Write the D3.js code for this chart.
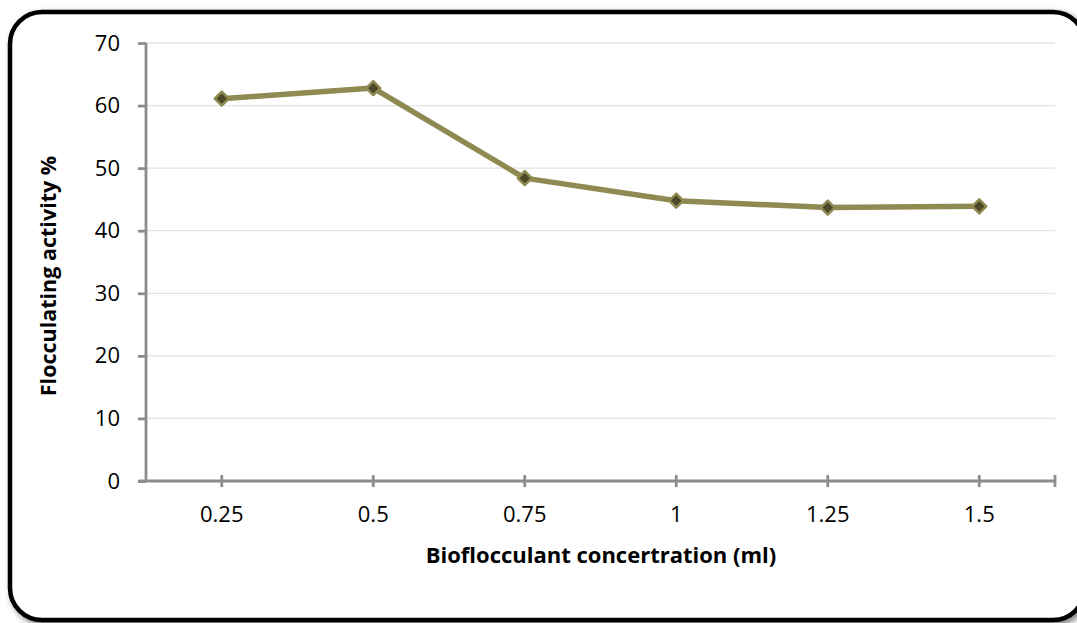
<!DOCTYPE html>
<html><head><meta charset="utf-8">
<script src="https://cdn.jsdelivr.net/npm/d3@7"></script>
<style>body{margin:0;background:#fff;}svg{display:block;}</style>
</head><body>
<svg id="c" width="1077" height="623"></svg>
<script>
const categories = ["0.25","0.5","0.75","1","1.25","1.5"];
const activity = [61.1, 62.8, 48.4, 44.8, 43.7, 43.9];
const yTicks = [0,10,20,30,40,50,60,70];
const xTitle = "Bioflocculant concertration (ml)";
const yTitle = "Flocculating activity %";

const svg = d3.select("#c");
const defs = svg.append("defs");
const f = defs.append("filter").attr("id","sh").attr("x","-5%").attr("y","-5%").attr("width","110%").attr("height","110%");
f.append("feGaussianBlur").attr("in","SourceAlpha").attr("stdDeviation",3).attr("result","b");
f.append("feOffset").attr("dx",3).attr("dy",3).attr("result","o");
f.append("feComponentTransfer").append("feFuncA").attr("type","linear").attr("slope",0.5);
const m = f.append("feMerge"); m.append("feMergeNode"); m.append("feMergeNode").attr("in","SourceGraphic");

// frame
svg.append("rect").attr("x",10).attr("y",12).attr("width",1075).attr("height",608).attr("rx",32)
  .attr("fill","#fff").attr("stroke","#000").attr("stroke-width",4.5).attr("filter","url(#sh)");

const L=146, R=1055, T=43, B=481;
const x = d3.scaleBand().domain(categories).range([L,R]);
const y = d3.scaleLinear().domain([0,70]).range([B,T]);

// gridlines
svg.append("g").selectAll("line").data(yTicks.filter(d=>d>0)).join("line")
  .attr("x1",L).attr("x2",R).attr("y1",d=>y(d)).attr("y2",d=>y(d))
  .attr("stroke","#e3e3e3").attr("stroke-width",1.3);

const font = "'Open Sans', 'Liberation Sans', sans-serif";
// y axis
const ya = svg.append("g").attr("transform",`translate(${L},0)`)
  .call(d3.axisLeft(y).tickValues(yTicks).tickSize(8).tickPadding(18).tickFormat(d3.format("d")));
ya.select(".domain").attr("stroke","#8c8c8c").attr("stroke-width",2.8).attr("d",`M0,${T}V${B}`);
ya.selectAll(".tick line").attr("stroke","#8c8c8c").attr("stroke-width",2.8);
ya.selectAll("text").attr("font-family",font).attr("font-size",22).attr("fill","#000");

// x axis
const xa = svg.append("g").attr("transform",`translate(0,${B})`)
  .call(d3.axisBottom(x).tickSize(0).tickPadding(25));
xa.select(".domain").attr("stroke","#8c8c8c").attr("stroke-width",2.8).attr("d",`M${L-7},0H${R}`);
xa.selectAll(".tick line").remove();
xa.selectAll("text").attr("font-family",font).attr("font-size",22).attr("fill","#000");
const xt = categories.map(c=>x(c)+x.bandwidth()/2).concat([R]);
xa.append("g").selectAll("line").data(xt).join("line")
  .attr("x1",d=>d).attr("x2",d=>d).attr("y1",-6).attr("y2",6)
  .attr("stroke","#8c8c8c").attr("stroke-width",2.8);

// titles
svg.append("text").attr("x",601).attr("y",563).attr("text-anchor","middle")
  .attr("font-family",font).attr("font-weight","bold").attr("font-size",22).text(xTitle);
svg.append("text").attr("transform",`translate(56,276) rotate(-90)`).attr("text-anchor","middle")
  .attr("font-family",font).attr("font-weight","bold").attr("font-size",21.5).text(yTitle);

// line
const pts = categories.map((c,i)=>[x(c)+x.bandwidth()/2, y(activity[i])]);
svg.append("path").attr("d",d3.line()(pts)).attr("fill","none")
  .attr("stroke","#8f8a52").attr("stroke-width",5.5).attr("stroke-linejoin","round");
svg.append("g").selectAll("path").data(pts).join("path")
  .attr("d",d3.symbol(d3.symbolDiamond2,125)())
  .attr("transform",d=>`translate(${d[0]},${d[1]})`)
  .attr("fill","#4d4829").attr("stroke","#8f8a52").attr("stroke-width",2.5).attr("stroke-linejoin","round");
</script>
</body></html>
